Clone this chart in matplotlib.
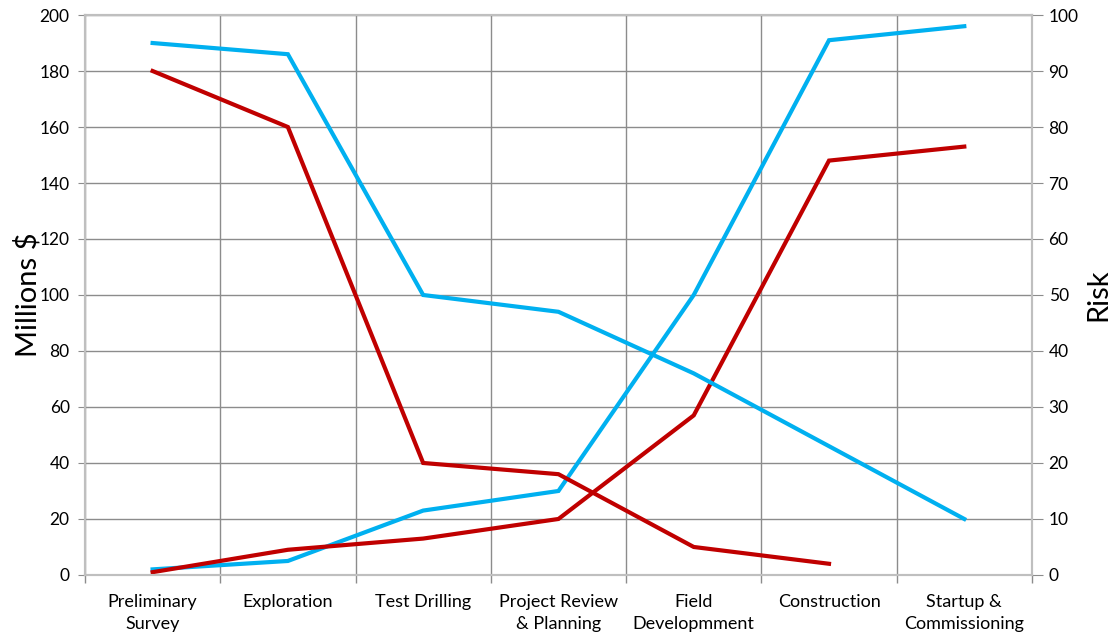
import matplotlib
matplotlib.use("Agg")
import matplotlib.pyplot as plt
from matplotlib.ticker import MultipleLocator

plt.rcParams['font.family'] = ['Lato', 'DejaVu Sans']

stages = ["Preliminary\nSurvey", "Exploration", "Test Drilling", "Project Review\n& Planning",
          "Field\nDevelopmment", "Construction", "Startup &\nCommissioning"]

# Millions $ (left axis)
cost_blue = [2, 5, 23, 30, 100, 191, 196]
cost_red = [1, 9, 13, 20, 57, 148, 153]
# Risk (right axis)
risk_blue = [95, 93, 50, 47, 36, 23, 10]
risk_red = [90, 80, 20, 18, 5, 2]

blue = '#00b0f0'
red = '#c00000'
grid_c = '#8c8c8c'
spine_c = '#bfbfbf'

fig = plt.figure(figsize=(11.12, 6.39), dpi=100)
ax = fig.add_axes([0.0764, 0.1002, 0.8516, 0.8763])
ax2 = ax.twinx()

x = list(range(len(stages)))
ax.plot(x, cost_blue, color=blue, lw=3, solid_joinstyle='miter', zorder=3)
ax.plot(x, cost_red, color=red, lw=3, solid_joinstyle='miter', zorder=3)
ax2.plot(x, risk_blue, color=blue, lw=3, solid_joinstyle='miter', zorder=3)
ax2.plot(x[:len(risk_red)], risk_red, color=red, lw=3, solid_joinstyle='miter', zorder=3)

ax.set_xlim(-0.5, len(stages) - 0.5)
ax.set_ylim(0, 200)
ax2.set_ylim(0, 100)
ax.yaxis.set_major_locator(MultipleLocator(20))
ax2.yaxis.set_major_locator(MultipleLocator(10))

ax.set_xticks(x)
ax.set_xticklabels(stages, fontsize=13, linespacing=1.45)
ax.set_xticks([i - 0.5 for i in range(len(stages) + 1)], minor=True)
ax.tick_params(axis='x', which='major', length=0, pad=14)
ax.tick_params(axis='x', which='minor', length=6, color=grid_c, width=1)
ax.tick_params(axis='y', length=5, color=grid_c, labelsize=12.5, pad=6)
ax2.tick_params(axis='y', length=8, color=grid_c, labelsize=12.5, pad=4)

ax.grid(axis='x', which='minor', color=grid_c, lw=1)
ax.grid(axis='y', which='major', color=grid_c, lw=1)
ax.set_axisbelow(True)

for a in (ax, ax2):
    for s in a.spines.values():
        s.set_color(spine_c)
        s.set_linewidth(1.5)

ax.set_ylabel("Millions $", fontsize=21)
ax.yaxis.set_label_coords(-0.046, 0.5)
ax2.set_ylabel("Risk", fontsize=21)
ax2.yaxis.set_label_coords(1.056, 0.5)

fig.savefig("out.png", dpi=100)
